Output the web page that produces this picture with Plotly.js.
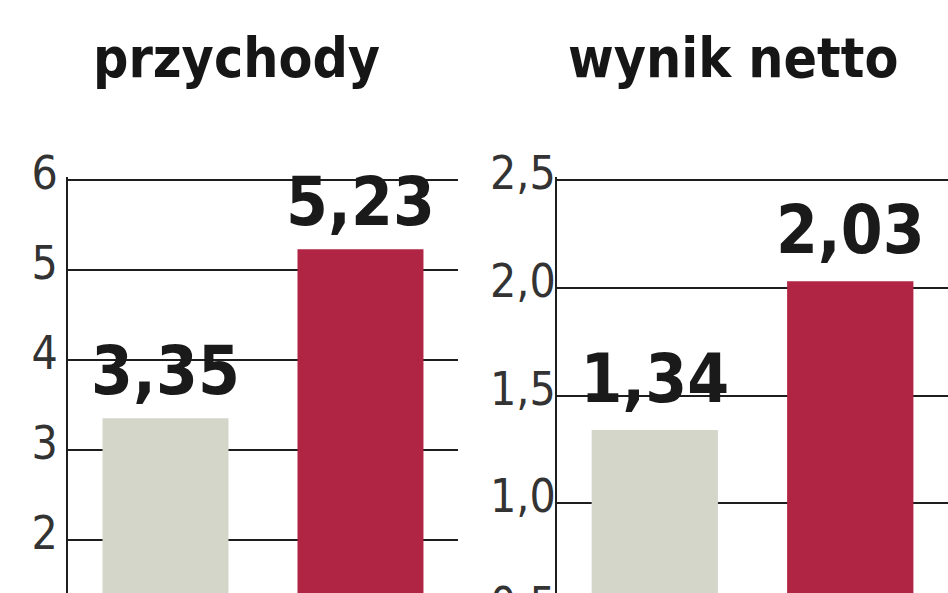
<!DOCTYPE html>
<html>
<head>
<meta charset="utf-8">
<script src="https://cdn.plot.ly/plotly-3.0.1.min.js"></script>
<style>
  html, body { margin: 0; padding: 0; overflow: hidden; background: #fff; }
  #chart { width: 948px; height: 700px; }
</style>
</head>
<body>
<div id="chart"></div>
<script>
// two periods, compared in two panels
const periods = ['poprzednio', 'teraz'];
const revenue = [3.35, 5.23];
const netResult = [1.34, 2.03];
const barColors = ['#d5d6ca', '#b02444'];
const panelTitles = ['przychody', 'wynik netto'];

const labelFont = {family: 'DejaVu Sans Condensed', size: 67, weight: 'bold', color: '#1a1a1a'};

function bars(values, xa, ya) {
    return {
        type: 'bar',
        x: periods,
        y: values,
        marker: {color: barColors},
        width: 0.646,
        hoverinfo: 'none',
        xaxis: xa,
        yaxis: ya
    };
}
// value labels sit a bit higher than bar text would, so put them on a text trace
// (the invisible marker size sets the gap above the bar)
function labels(values, xa, ya, gap) {
    return {
        type: 'scatter',
        mode: 'markers+text',
        x: periods,
        y: values,
        marker: {size: gap, color: 'rgba(0,0,0,0)'},
        texttemplate: '%{y:.2f}',
        textposition: 'top center',
        textfont: labelFont,
        cliponaxis: false,
        hoverinfo: 'none',
        xaxis: xa,
        yaxis: ya
    };
}

const tickFont = {family: 'DejaVu Sans Condensed', size: 46, color: '#333'};
const yBase = {
    showline: true,
    linecolor: '#1e1e1e',
    linewidth: 2,
    showgrid: true,
    gridcolor: '#1e1e1e',
    gridwidth: 2,
    zeroline: false,
    ticks: '',
    tickfont: tickFont,
    ticklabelshift: -7,
    fixedrange: true
};
const xBase = {
    showline: false,
    showgrid: false,
    zeroline: false,
    showticklabels: false,
    ticks: '',
    range: [-0.5, 1.5],
    fixedrange: true
};

const titleFont = {family: 'DejaVu Sans Condensed', size: 55, weight: 'bold', color: '#161616'};

const layout = {
    width: 948,
    height: 700,
    margin: {l: 0, r: 0, t: 177, b: 0},
    paper_bgcolor: '#fff',
    plot_bgcolor: 'rgba(0,0,0,0)',
    showlegend: false,
    separators: ', ',
    xaxis: Object.assign({}, xBase, {domain: [0.0717, 0.4831], anchor: 'y'}),
    xaxis2: Object.assign({}, xBase, {domain: [0.5876, 1], anchor: 'y2'}),
    yaxis: Object.assign({}, yBase, {range: [0.2158, 6.0334], dtick: 1, tick0: 0,
        ticklabelstandoff: -1, anchor: 'x'}),
    yaxis2: Object.assign({}, yBase, {range: [0.087, 2.5139], dtick: 0.5, tick0: 0,
        tickformat: '.1f', ticklabelstandoff: -10, anchor: 'x2'}),
    annotations: [
        {text: panelTitles[0], xref: 'paper', yref: 'paper', x: 236 / 948, y: 1.163,
         xanchor: 'center', yanchor: 'bottom', showarrow: false, font: titleFont},
        {text: panelTitles[1], xref: 'paper', yref: 'paper', x: 733 / 948, y: 1.163,
         xanchor: 'center', yanchor: 'bottom', showarrow: false, font: titleFont}
    ]
};

const config = {displayModeBar: false, staticPlot: true};
Plotly.newPlot('chart', [
    bars(revenue, 'x', 'y'), bars(netResult, 'x2', 'y2'),
    labels(revenue, 'x', 'y', 10), labels(netResult, 'x2', 'y2', 17)
], layout, config);
</script>
</body>
</html>
